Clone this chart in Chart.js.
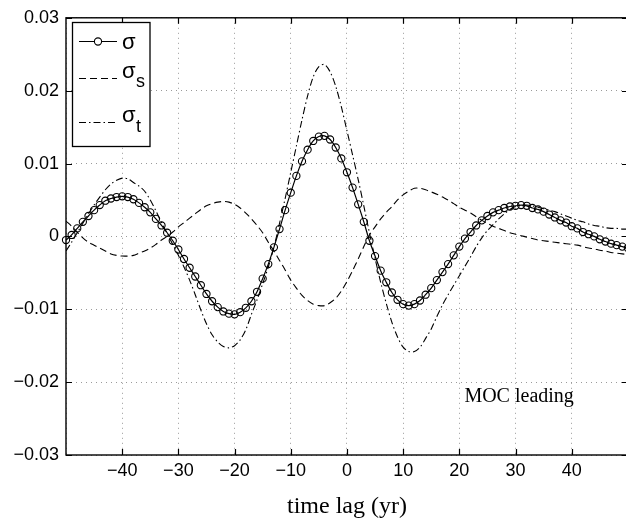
<!DOCTYPE html>
<html><head><meta charset="utf-8">
<script src="https://cdn.jsdelivr.net/npm/chart.js@4.4.0/dist/chart.umd.min.js"></script>
<style>
html,body{margin:0;padding:0;background:#fff;overflow:hidden;width:626px;height:525px}
#wrap{position:relative;width:633px;height:525px}
canvas{display:block}
</style></head>
<body><div id="wrap"><canvas id="c" width="633" height="525"></canvas></div>
<script>
// ---- data ----
const lags = [-50,-49,-48,-47,-46,-45,-44,-43,-42,-41,-40,-39,-38,-37,-36,-35,-34,-33,-32,-31,
  -30,-29,-28,-27,-26,-25,-24,-23,-22,-21,-20,-19,-18,-17,-16,-15,-14,-13,-12,-11,
  -10,-9,-8,-7,-6,-5,-4,-3,-2,-1,0,1,2,3,4,5,6,7,8,9,
  10,11,12,13,14,15,16,17,18,19,20,21,22,23,24,25,26,27,28,29,
  30,31,32,33,34,35,36,37,38,39,40,41,42,43,44,45,46,47,48,49,50];

const sigma = [-0.0005,0.0002,0.0011,0.0020,0.0028,0.0036,0.0043,0.0049,0.0052,0.0054,
  0.0055,0.0054,0.0051,0.0046,0.0040,0.0033,0.0024,0.0015,0.0005,-0.0006,
  -0.0018,-0.0031,-0.0043,-0.0055,-0.0067,-0.0079,-0.0089,-0.0097,-0.0103,-0.0106,
  -0.0107,-0.0104,-0.0098,-0.0089,-0.0076,-0.0058,-0.0038,-0.0015,0.0010,0.0036,
  0.0060,0.0083,0.0103,0.0119,0.0131,0.0137,0.0138,0.0133,0.0122,0.0107,
  0.0088,0.0067,0.0044,0.0020,-0.0006,-0.0027,-0.0047,-0.0063,-0.0077,-0.0087,
  -0.0093,-0.0095,-0.0093,-0.0088,-0.0080,-0.0071,-0.0060,-0.0049,-0.0038,-0.0026,
  -0.0014,-0.0003,0.0006,0.0015,0.0022,0.0028,0.0033,0.0036,0.0039,0.0041,
  0.0042,0.0043,0.0042,0.0039,0.0037,0.0034,0.0030,0.0026,0.0022,0.0019,
  0.0014,0.0011,0.0006,0.0003,0.0000,-0.0004,-0.0007,-0.0010,-0.0012,-0.0014,-0.0016];

const sigmaS = [0.0021,0.0014,0.0006,-0.0002,-0.0008,-0.0012,-0.0016,-0.0020,-0.0024,-0.0026,
  -0.0027,-0.0027,-0.0026,-0.0023,-0.0020,-0.0016,-0.0011,-0.0005,0.0000,0.0006,
  0.0013,0.0019,0.0025,0.0031,0.0037,0.0042,0.0045,0.0047,0.0048,0.0047,
  0.0044,0.0039,0.0032,0.0024,0.0015,0.0005,-0.0008,-0.0020,-0.0033,-0.0046,
  -0.0060,-0.0071,-0.0081,-0.0088,-0.0093,-0.0095,-0.0095,-0.0091,-0.0085,-0.0075,
  -0.0062,-0.0047,-0.0031,-0.0014,0.0002,0.0013,0.0024,0.0033,0.0041,0.0050,
  0.0057,0.0062,0.0066,0.0066,0.0064,0.0061,0.0058,0.0054,0.0050,0.0045,
  0.0040,0.0036,0.0032,0.0027,0.0022,0.0018,0.0014,0.0011,0.0008,0.0005,
  0.0003,0.0001,-0.0001,-0.0003,-0.0005,-0.0006,-0.0007,-0.0008,-0.0009,-0.0010,
  -0.0011,-0.0012,-0.0014,-0.0016,-0.0017,-0.0019,-0.0020,-0.0022,-0.0023,-0.0024,-0.0025];

const sigmaT = [-0.0020,-0.0008,0.0005,0.0018,0.0031,0.0043,0.0054,0.0064,0.0072,0.0077,
  0.0080,0.0079,0.0074,0.0069,0.0062,0.0050,0.0035,0.0019,0.0004,-0.0011,
  -0.0026,-0.0042,-0.0060,-0.0080,-0.0101,-0.0120,-0.0135,-0.0145,-0.0151,-0.0153,
  -0.0150,-0.0142,-0.0128,-0.0107,-0.0087,-0.0065,-0.0042,-0.0015,0.0018,0.0052,
  0.0088,0.0124,0.0160,0.0193,0.0219,0.0233,0.0236,0.0226,0.0206,0.0178,
  0.0145,0.0112,0.0078,0.0042,0.0005,-0.0030,-0.0063,-0.0092,-0.0118,-0.0138,
  -0.0152,-0.0158,-0.0158,-0.0152,-0.0140,-0.0127,-0.0110,-0.0094,-0.0080,-0.0067,
  -0.0054,-0.0041,-0.0028,-0.0014,-0.0002,0.0008,0.0016,0.0024,0.0031,0.0037,
  0.0041,0.0043,0.0043,0.0042,0.0040,0.0038,0.0036,0.0034,0.0031,0.0028,
  0.0025,0.0022,0.0020,0.0017,0.0015,0.0014,0.0012,0.0011,0.0011,0.0010,0.0010];

const xTickValues = [-40,-30,-20,-10,0,10,20,30,40];
const yTickValues = [-0.03,-0.02,-0.01,0,0.01,0.02,0.03];
const legendBase = ['\u03c3','\u03c3','\u03c3'];
const legendSub = ['','s','t'];
const noteText = 'MOC leading';
const xTitle = 'time lag (yr)';

// ---- helpers ----
const MINUS = '\u2212';
function fmtX(v){ const r = Math.round(v); if (!xTickValues.includes(r)) return ''; return (r<0?MINUS:'') + Math.abs(r); }
function fmtY(v){ const r = Math.round(v*100)/100; if (r===0) return '0'; return (r<0?MINUS:'') + Math.abs(r).toFixed(2); }
const pts = arr => lags.map((x,i)=>({x:x, y:arr[i]}));

const DASH_S = [7,4];
const DASH_T = [7,3,1.5,3];

const framePlugin = {
  id:'frame',
  afterDraw(chart){
    const ctx = chart.ctx, a = chart.chartArea;
    const xs = chart.scales.x, ys = chart.scales.y;
    ctx.save();
    // frame
    ctx.strokeStyle = '#000'; ctx.lineWidth = 1.4; ctx.setLineDash([]);
    ctx.strokeRect(a.left, a.top, a.right-a.left, a.bottom-a.top);
    // inward ticks
    const tl = 6;
    ctx.lineWidth = 1.2;
    ctx.beginPath();
    xTickValues.forEach(v=>{
      const px = Math.round(xs.getPixelForValue(v))+0.5;
      ctx.moveTo(px, a.bottom); ctx.lineTo(px, a.bottom - tl);
      ctx.moveTo(px, a.top); ctx.lineTo(px, a.top + tl);
    });
    yTickValues.forEach(v=>{
      const py = Math.round(ys.getPixelForValue(v))+0.5;
      ctx.moveTo(a.left, py); ctx.lineTo(a.left + tl, py);
      ctx.moveTo(a.right, py); ctx.lineTo(a.right - tl, py);
    });
    ctx.stroke();
    // note text
    ctx.fillStyle = '#000';
    ctx.font = '20px "Liberation Serif", serif';
    ctx.textAlign = 'left'; ctx.textBaseline = 'alphabetic';
    ctx.fillText(noteText, xs.getPixelForValue(20.9), ys.getPixelForValue(-0.0227));
    // legend
    const bx = 72.5, by = 22.5, bw = 77.5, bh = 124;
    ctx.fillStyle = '#fff';
    ctx.fillRect(bx, by, bw, bh);
    ctx.strokeStyle = '#000'; ctx.lineWidth = 1.3;
    ctx.strokeRect(bx, by, bw, bh);
    ctx.lineWidth = 1.1;
    const lineY = [41.5, 78.5, 122.5];
    const baseY = [49, 78, 122];
    const subY = [0, 87, 132];
    const dashes = [[], DASH_S, DASH_T];
    for (let i=0;i<3;i++){
      ctx.beginPath();
      ctx.setLineDash(dashes[i]);
      ctx.moveTo(79, lineY[i]); ctx.lineTo(117, lineY[i]);
      ctx.stroke();
      ctx.setLineDash([]);
      if (i===0){
        ctx.beginPath(); ctx.arc(98, lineY[i], 3.6, 0, Math.PI*2);
        ctx.fillStyle = '#fff'; ctx.fill(); ctx.stroke();
      }
      ctx.fillStyle = '#000';
      ctx.font = '22px "Liberation Sans", sans-serif';
      ctx.fillText(legendBase[i], 122, baseY[i]);
      const w = ctx.measureText(legendBase[i]).width;
      if (legendSub[i]){
        ctx.font = '18px "Liberation Sans", sans-serif';
        ctx.fillText(legendSub[i], 122 + w + 0.5, subY[i]);
      }
    }
    ctx.restore();
  }
};

const gridCommon = { color:'#9a9a9a', lineWidth:1, drawTicks:false, tickLength:0 };

new Chart(document.getElementById('c'), {
  type:'line',
  data:{
    datasets:[
      { label:'\u03c3', data:pts(sigma), borderColor:'#000', borderWidth:1.2, tension:0.3,
        pointRadius:3.6, pointBorderWidth:1.1, pointBorderColor:'#000', pointBackgroundColor:'rgba(0,0,0,0)',
        pointStyle:'circle', fill:false, clip:6 },
      { label:'\u03c3s', data:pts(sigmaS), borderColor:'#000', borderWidth:1.1, tension:0.3,
        borderDash:DASH_S, pointRadius:0, fill:false },
      { label:'\u03c3t', data:pts(sigmaT), borderColor:'#000', borderWidth:1.1, tension:0.3,
        borderDash:DASH_T, pointRadius:0, fill:false }
    ]
  },
  options:{
    responsive:false, animation:false, devicePixelRatio:1,
    layout:{ padding:{ top:17, right:1, left:0, bottom:0 } },
    plugins:{ legend:{display:false}, tooltip:{enabled:false} },
    scales:{
      x:{ type:'linear', min:-50, max:50,
        ticks:{ stepSize:10, autoSkip:false, maxRotation:0, padding:5, color:'#000',
          font:{ family:'"Liberation Sans", sans-serif', size:18 }, callback:fmtX },
        grid:gridCommon, border:{ display:false, dash:[1,4] },
        title:{ display:true, text:xTitle, color:'#000',
          font:{ family:'"Liberation Serif", serif', size:24 }, padding:{top:4,bottom:4} },
        afterFit(s){ s.height = 70; s.paddingLeft = 0; s.paddingRight = 0; }
      },
      y:{ type:'linear', min:-0.03, max:0.03,
        ticks:{ stepSize:0.01, padding:7, color:'#000',
          font:{ family:'"Liberation Sans", sans-serif', size:18 }, callback:fmtY },
        grid:gridCommon, border:{ display:false, dash:[1,4] },
        afterFit(s){ s.width = 66; }
      }
    }
  },
  plugins:[framePlugin]
});
</script>
</body></html>
